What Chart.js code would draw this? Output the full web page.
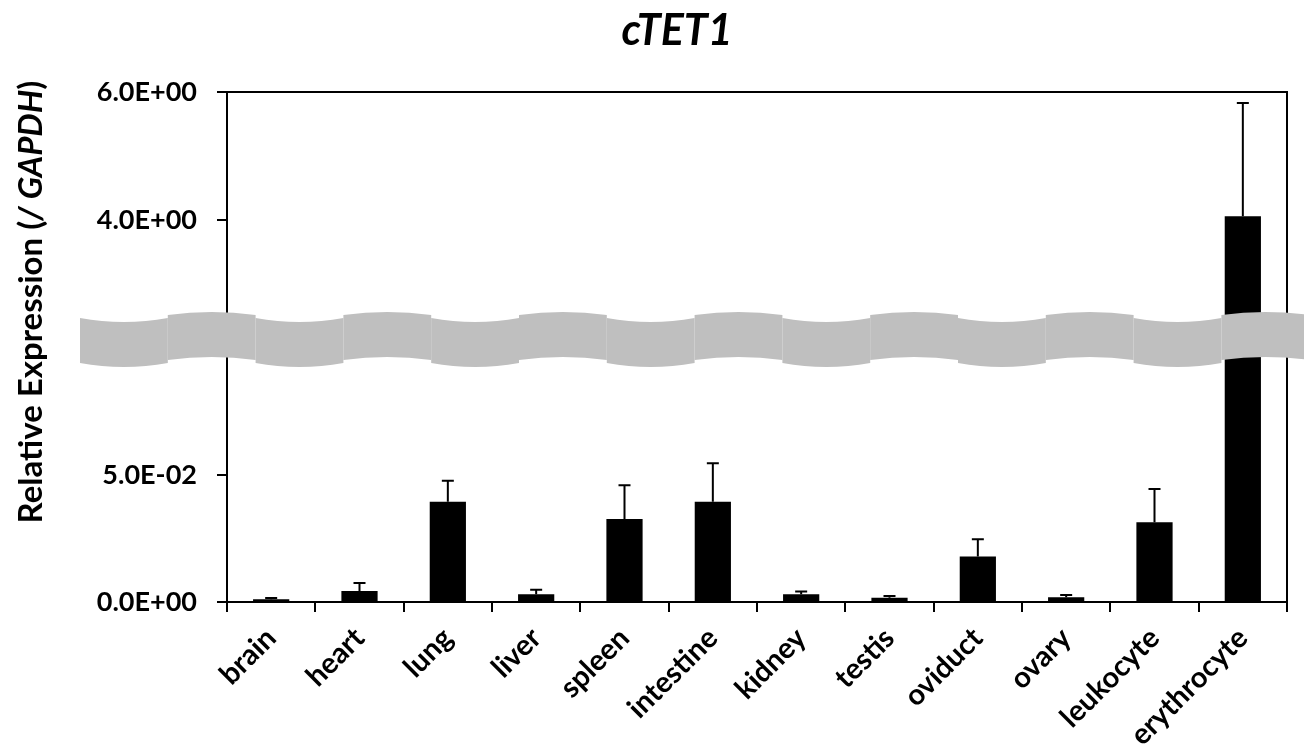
<!DOCTYPE html>
<html>
<head>
<meta charset="utf-8">
<script src="https://cdn.jsdelivr.net/npm/chart.js@4.4.0/dist/chart.umd.min.js"></script>
<style>
  html, body { margin: 0; padding: 0; background: #fff; }
</style>
</head>
<body>
<canvas id="chart" width="1304" height="751"></canvas>
<script>

const tissues = ['brain', 'heart', 'lung', 'liver', 'spleen', 'intestine', 'kidney', 'testis', 'oviduct', 'ovary', 'leukocyte', 'erythrocyte'];
const expression = [0.0011, 0.0043, 0.0396, 0.0031, 0.0328, 0.0396, 0.0031, 0.0017, 0.0180, 0.0019, 0.0315, 4.06];
const errorUp = [0.0005, 0.0032, 0.0083, 0.0017, 0.0133, 0.0152, 0.0010, 0.0007, 0.0068, 0.0009, 0.0131, 1.77];
const tickValues = [0, 0.05, 4, 6];
const tickLabels = ['0.0E+00', '5.0E-02', '4.0E+00', '6.0E+00'];

// broken axis: below the break one axis unit = 0.05, above it 4.0 sits at 3.016
const lowStep = 0.05;
const upperFrom = 4;
const upperAt = 3.016;
const upperStep = 1.976;
const breakAt = 2.073; // middle of the grey band, in axis units

function toAxis(v) {
  if (v < 1) return v / lowStep;
  return upperAt + (v - upperFrom) / upperStep;
}

const FONT = 'Lato';

// top and right edge of the box
const framePlugin = {
  id: 'frame',
  beforeDatasetsDraw(chart) {
    const a = chart.chartArea, ctx = chart.ctx;
    ctx.save();
    ctx.strokeStyle = '#000';
    ctx.lineWidth = 2;
    ctx.beginPath();
    ctx.moveTo(a.left, a.top);
    ctx.lineTo(a.right, a.top);
    ctx.lineTo(a.right, a.bottom);
    ctx.stroke();
    ctx.restore();
  }
};

// only the upper half of the error bar, like in the excel sheet
const errorBarPlugin = {
  id: 'errorBars',
  afterDatasetsDraw(chart) {
    const ctx = chart.ctx, y = chart.scales.y;
    const bars = chart.getDatasetMeta(0).data;
    ctx.save();
    ctx.strokeStyle = '#000';
    ctx.lineWidth = 2;
    bars.forEach((bar, i) => {
      const top = y.getPixelForValue(toAxis(expression[i] + errorUp[i]));
      ctx.beginPath();
      ctx.moveTo(bar.x, bar.y);
      ctx.lineTo(bar.x, top);
      ctx.moveTo(bar.x - 6, top);
      ctx.lineTo(bar.x + 6, top);
      ctx.stroke();
    });
    ctx.restore();
  }
};

// the wavy grey band that hides the gap between 0.1 and 4
const breakPlugin = {
  id: 'axisBreak',
  afterDatasetsDraw(chart) {
    const ctx = chart.ctx, a = chart.chartArea;
    const yc = chart.scales.y.getPixelForValue(breakAt);
    const seg = 87.8;
    ctx.save();
    ctx.fillStyle = '#bfbfbf';
    let k = 0;
    for (let x0 = a.left - 147; x0 < chart.width; x0 += seg, k++) {
      const up = k % 2 === 1;
      const topEnd = up ? -24.5 : -21.5, topMid = up ? -27.5 : -17.5;
      const botEnd = up ? 20.5 : 23.5, botMid = up ? 17.5 : 27.5;
      const x1 = x0 + seg, xm = x0 + seg / 2;
      ctx.beginPath();
      ctx.moveTo(x0, yc + topEnd);
      ctx.quadraticCurveTo(xm, yc + 2 * topMid - topEnd, x1, yc + topEnd);
      ctx.lineTo(x1, yc + botEnd);
      ctx.quadraticCurveTo(xm, yc + 2 * botMid - botEnd, x0, yc + botEnd);
      ctx.closePath();
      ctx.fill();
    }
    ctx.restore();
  }
};

// title and the y title (part of it in italics, so done by hand)
const textPlugin = {
  id: 'texts',
  afterDraw(chart) {
    const ctx = chart.ctx;
    ctx.save();
    ctx.fillStyle = '#000';
    ctx.textBaseline = 'alphabetic';
    ctx.textAlign = 'center';
    ctx.font = 'italic bold 43px ' + FONT;
    ctx.fillText('cTET1', 677, 45);

    const parts = [
      ['Relative Expression (', 'bold 33px ' + FONT],
      ['/ GAPDH', 'italic bold 33px ' + FONT],
      [')', 'bold 33px ' + FONT]
    ];
    let total = 0;
    parts.forEach(p => { ctx.font = p[1]; total += ctx.measureText(p[0]).width; });
    ctx.translate(42, 302);
    ctx.rotate(-Math.PI / 2);
    ctx.textAlign = 'left';
    let x = -total / 2;
    parts.forEach(p => {
      ctx.font = p[1];
      ctx.fillText(p[0], x, 0);
      x += ctx.measureText(p[0]).width;
    });
    ctx.restore();
  }
};

document.addEventListener('DOMContentLoaded', function () {

  const canvas = document.getElementById('chart');

  new Chart(canvas, {
    type: 'bar',
    data: {
      labels: tissues,
      datasets: [{
        data: expression.map(toAxis),
        backgroundColor: '#000',
        borderWidth: 0,
        barPercentage: 0.41,
        categoryPercentage: 1.0
      }]
    },
    options: {
      responsive: false,
      animation: false,
      layout: { padding: { top: 92, right: 17, left: 0, bottom: 0 } },
      scales: {
        x: {
          grid: { offset: true, drawOnChartArea: false, tickLength: 10, color: '#000', lineWidth: 2 },
          border: { color: '#000', width: 2 },
          ticks: { minRotation: 45, maxRotation: 45, padding: 9, color: '#000', font: { family: FONT, weight: 'bold', size: 29 } },
          afterFit: s => { s.height = 149; }
        },
        y: {
          min: 0,
          max: toAxis(6),
          afterBuildTicks: s => { s.ticks = tickValues.map(v => ({ value: toAxis(v) })); },
          grid: { drawOnChartArea: false, tickLength: 10, color: '#000', lineWidth: 2 },
          border: { color: '#000', width: 2 },
          ticks: {
            padding: 20,
            color: '#000',
            font: { family: FONT, weight: 'bold', size: 27 },
            callback: (val, i) => tickLabels[i]
          },
          afterFit: s => { s.width = 227; }
        }
      },
      plugins: {
        legend: { display: false },
        tooltip: { enabled: false }
      }
    },
    plugins: [framePlugin, errorBarPlugin, breakPlugin, textPlugin]
  });

});
</script>
</body>
</html>
